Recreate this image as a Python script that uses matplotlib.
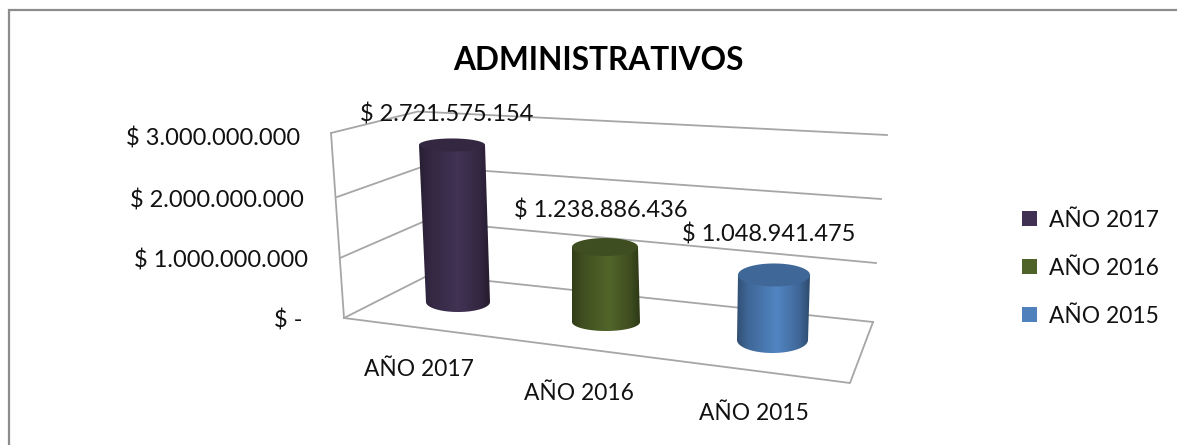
import numpy as np
import matplotlib
matplotlib.use("Agg")
import matplotlib.pyplot as plt
from matplotlib.colors import LinearSegmentedColormap
from matplotlib.path import Path
from matplotlib.patches import PathPatch, Rectangle

title = "ADMINISTRATIVOS"
categories = ["AÑO 2017", "AÑO 2016", "AÑO 2015"]
values = [2721575154, 1238886436, 1048941475]
value_labels = ["$ 2.721.575.154", "$ 1.238.886.436", "$ 1.048.941.475"]
tick_labels = ["$ -", "$ 1.000.000.000", "$ 2.000.000.000", "$ 3.000.000.000"]
colors = ["#403152", "#4F6228", "#4F81BD"]

plt.rcParams['font.family'] = ['Lato', 'DejaVu Sans']
fig = plt.figure(figsize=(11.77, 4.45), dpi=100)
ax = fig.add_axes([0, 0, 1, 1])
ax.set_xlim(0, 1177)
ax.set_ylim(445, 0)
ax.axis("off")

GRID = "#a6a6a6"
ax.plot([8.5, 8.5, 1177], [445, 10, 10], color="#8c8c8c", lw=1.6, solid_joinstyle="miter")

# 3D box corners per tick level (front of side wall, back corner, right end of back wall)
front_x = [344, 340, 337, 331]
front_y = [318, 258, 197, 133]
back_x = [429.5, 425, 423, 418]
back_y = [274.7, 221, 166.5, 111.5]
right_x = [873, 876, 881, 887]
right_y = [322, 263, 199, 135]

for k in range(len(tick_labels)):
    ax.plot([front_x[k], back_x[k], right_x[k]], [front_y[k], back_y[k], right_y[k]],
            color=GRID, lw=1.3, zorder=1)
ax.plot([front_x[0], front_x[-1]], [front_y[0], front_y[-1]], color=GRID, lw=1.3, zorder=1)
ax.plot([front_x[0], 850, right_x[0]], [front_y[0], 383, right_y[0]], color=GRID, lw=1.3, zorder=1)

# cylinders
base_cx = [458, 606, 772.5]
base_cy = [302, 322, 340]
base_w = [64, 68, 71]
top_w = [66, 66, 72]
shear = [-6, -1, 1.5]
scale = [57.7 / 1e9, 60.5 / 1e9, 62 / 1e9]
top_e = [6.5, 9, 11.5]
bot_e = [10, 9, 13]

def make_cmap(c):
    rgb = np.array(matplotlib.colors.to_rgb(c))
    return LinearSegmentedColormap.from_list("c", [
        (0, rgb * 0.62), (0.15, rgb * 0.8), (0.55, rgb * 1.03), (0.85, rgb * 0.8), (1, rgb * 0.58)])

for i, v in enumerate(values):
    h = v * scale[i]
    bx, by = base_cx[i], base_cy[i]
    tx, ty = bx + shear[i], by - h
    rb, rt = base_w[i] / 2, top_w[i] / 2
    t = np.linspace(0, np.pi, 50)
    lower = np.column_stack([bx + rb * np.cos(t), by + bot_e[i] * np.sin(t)])
    verts = np.vstack([[tx - rt, ty], [tx + rt, ty], lower, [tx - rt, ty]])
    clip = PathPatch(Path(verts), transform=ax.transData, fc="none", ec="none")
    ax.add_patch(clip)
    grad = np.linspace(0, 1, 256)[None, :]
    x0 = min(tx - rt, bx - rb)
    x1 = max(tx + rt, bx + rb)
    im = ax.imshow(grad, extent=[x0, x1, by + bot_e[i] + 1, ty - 1], cmap=make_cmap(colors[i]),
                   vmin=0, vmax=1, aspect="auto", zorder=3, interpolation="bilinear")
    im.set_clip_path(clip)
    th = np.linspace(0, 2 * np.pi, 100)
    top_col = np.array(matplotlib.colors.to_rgb(colors[i])) * 0.8
    ax.fill(tx + rt * np.cos(th), ty + top_e[i] * np.sin(th), color=top_col, lw=0, zorder=4)
ax.set_xlim(0, 1177)
ax.set_ylim(445, 0)

FS = 17
FS2 = 16.4
TC = "#111111"
for lab, x, y in zip(value_labels, [447, 601, 769], [114, 211, 235]):
    ax.text(x, y, lab, ha="center", va="center", fontsize=FS, color=TC, zorder=6)
for lab, x, y in zip(categories, [419, 579, 754], [370, 393, 414]):
    ax.text(x, y, lab, ha="center", va="center", fontsize=FS2, color=TC, zorder=6)
for lab, x, y in zip(tick_labels, [302, 308, 304, 300], [321, 261, 200, 139]):
    ax.text(x, y, lab, ha="right", va="center", fontsize=FS, color=TC, zorder=6)
ax.text(598, 60, title, ha="center", va="center", fontsize=22.8, fontweight="bold", color="black")
for lab, c, y in zip(categories, colors, [218.5, 266.5, 314.5]):
    ax.add_patch(Rectangle((1022, y - 7.5), 15, 15, fc=c, ec="none"))
    ax.text(1049, y + 2, lab, ha="left", va="center", fontsize=FS2, color=TC)

fig.savefig("out.png", dpi=100)
